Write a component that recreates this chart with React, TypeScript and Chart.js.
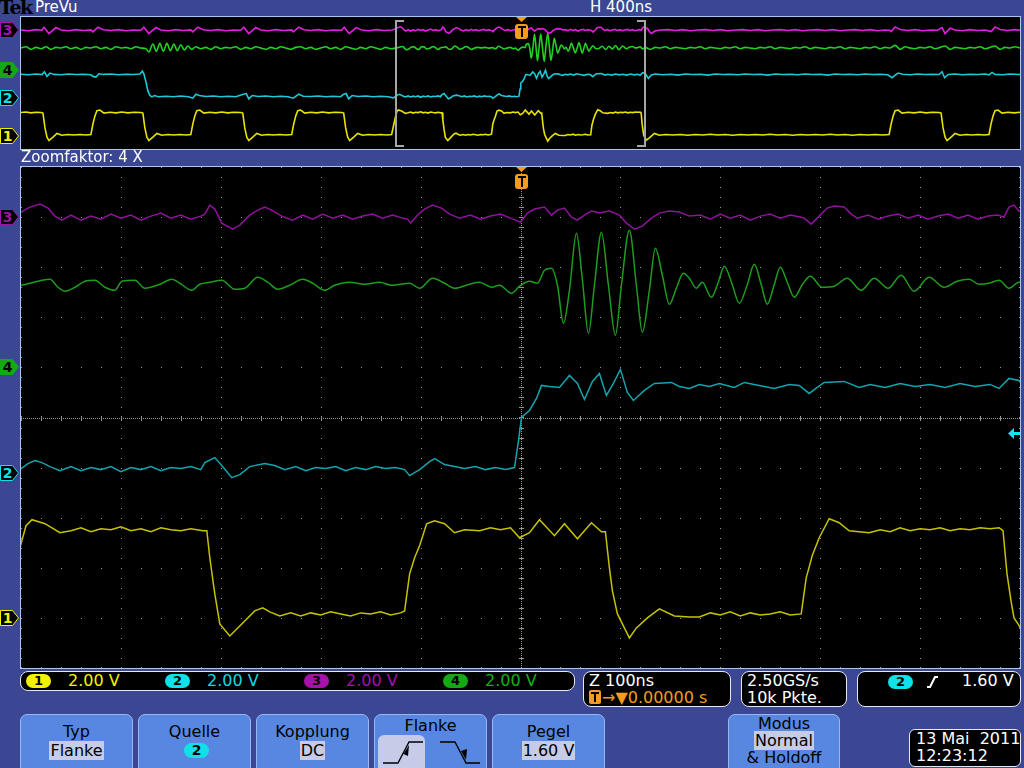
import React, { useEffect, useRef } from "react";
import { Chart, registerables } from "chart.js";

Chart.register(...registerables);

type Pt = [number, number];

// ---- time bases (ns) ----
const MAIN_TIME_RANGE: [number, number] = [-500, 500]; // Z 100ns / div
const OVERVIEW_TIME_RANGE: [number, number] = [-2000, 2000]; // H 400ns / div
const MAIN_TIME_STEP = 100;
const VOLTS_PER_DIV = 2.0;
const TRIGGER_LEVEL_V = 1.6;
const DIV_RANGE: [number, number] = [-5, 5];

// ---- channel info ----
const channelNames = ["1", "2", "3", "4"];
const channelScaleLabels = ["2.00 V", "2.00 V", "2.00 V", "2.00 V"];
const channelOffsetDiv = [-4.0, -1.1, 4.0, 1.0];

// ---- traces: [time ns, volts] ----
const ch1Trace: Pt[] = [
  [-2000,3.52],[-1980,3.60],[-1960,3.48],[-1940,3.56],[-1920,3.52],
  [-1912,3.44],[-1904,1.20],[-1896,-0.20],[-1888,-0.72],[-1872,-0.20],[-1856,0.36],[-1836,0.08],[-1812,0.20],[-1788,0.12],[-1764,0.20],[-1740,0.12],[-1720,0.20],
  [-1712,1.80],[-1704,3.00],[-1696,3.80],[-1684,3.90],[-1668,3.44],[-1644,3.56],[-1620,3.48],[-1596,3.60],[-1572,3.48],[-1548,3.56],[-1520,3.52],
  [-1512,3.44],[-1504,1.20],[-1496,-0.20],[-1488,-0.72],[-1472,-0.20],[-1456,0.36],[-1436,0.08],[-1412,0.20],[-1388,0.12],[-1364,0.20],[-1340,0.12],[-1320,0.20],
  [-1312,1.80],[-1304,3.00],[-1296,3.80],[-1284,3.90],[-1268,3.44],[-1244,3.56],[-1220,3.48],[-1196,3.60],[-1172,3.48],[-1148,3.56],[-1120,3.52],
  [-1112,3.44],[-1104,1.20],[-1096,-0.20],[-1088,-0.72],[-1072,-0.20],[-1056,0.36],[-1036,0.08],[-1012,0.20],[-988,0.12],[-964,0.20],[-940,0.12],[-916,0.20],
  [-908,1.80],[-900,3.00],[-892,3.80],[-880,3.90],[-864,3.44],[-840,3.56],[-816,3.48],[-792,3.60],[-768,3.48],[-744,3.56],[-716,3.52],
  [-708,3.44],[-700,1.20],[-692,-0.20],[-684,-0.72],[-668,-0.20],[-652,0.36],[-632,0.08],[-608,0.20],[-584,0.12],[-560,0.20],[-536,0.12],[-516,0.20],
  [-508,1.60],
  [-500,2.96],[-495,3.68],[-489,3.92],[-476,3.76],[-461,3.40],[-450,3.48],[-440,3.60],[-430,3.44],[-420,3.56],[-410,3.52],[-400,3.64],[-390,3.48],[-380,3.56],[-370,3.44],[-360,3.60],[-350,3.52],[-340,3.48],[-330,3.56],[-318,3.48],
  [-314,3.48],[-311,2.40],[-306,0.96],[-301,-0.24],[-291,-0.72],[-281,-0.32],[-266,0.28],[-258,0.40],[-251,0.24],[-241,0.08],[-230,0.20],[-220,0.08],[-210,0.20],[-200,0.12],[-190,0.24],[-180,0.16],[-170,0.08],[-160,0.20],[-150,0.16],[-140,0.24],[-130,0.12],[-120,0.20],[-116,0.28],
  [-111,1.76],[-106,2.40],[-101,2.88],[-94,3.76],[-86,3.88],[-76,3.76],[-66,3.40],[-56,3.52],[-41,3.48],[-30,3.60],[-20,3.52],[-10,3.60],[-1,3.20],[9,3.40],[19,3.92],[34,3.28],[44,3.76],[57,3.16],[71,3.80],[81,3.44],[85,3.44],
  [89,2.00],[92,1.08],[97,0.16],[104,-0.40],[109,-0.80],[116,-0.40],[127,0.00],[139,0.36],[154,0.08],[169,0.04],[179,0.04],[190,0.20],[200,0.12],[210,0.24],[220,0.08],[230,0.20],[240,0.12],[250,0.16],[260,0.24],[270,0.12],[281,0.16],
  [286,1.60],[292,2.48],[299,3.20],[309,3.96],[319,3.80],[329,3.48],[349,3.40],[360,3.52],[370,3.44],[380,3.60],[390,3.48],[400,3.56],[410,3.52],[420,3.60],[430,3.48],[440,3.56],[450,3.52],[460,3.60],[470,3.56],[479,3.60],[483,3.48],
  [487,1.76],[491,0.68],[494,0.00],[498,-0.24],
  [504,-0.64],[516,-0.30],[536,0.36],[556,0.08],[580,0.20],[610,0.12],[640,0.20],[670,0.08],[700,0.20],[730,0.12],[760,0.24],[790,0.12],[820,0.20],[850,0.08],[880,0.20],[910,0.12],[940,0.20],[970,0.12],[1000,0.24],[1030,0.12],[1060,0.20],[1090,0.08],[1120,0.20],[1150,0.12],[1180,0.20],[1210,0.12],[1240,0.24],[1270,0.12],[1300,0.20],[1330,0.08],[1360,0.20],[1390,0.12],[1420,0.20],[1450,0.12],[1476,0.20],
  [1484,1.80],[1492,3.00],[1500,3.80],[1512,3.90],[1528,3.44],[1552,3.56],[1576,3.48],[1600,3.60],[1624,3.48],[1648,3.56],[1676,3.52],
  [1684,3.44],[1692,1.20],[1700,-0.20],[1708,-0.72],[1724,-0.20],[1740,0.36],[1760,0.08],[1784,0.20],[1808,0.12],[1832,0.20],[1856,0.12],[1876,0.20],
  [1884,1.80],[1892,3.00],[1900,3.80],[1912,3.90],[1928,3.44],[1952,3.56],[1976,3.48],[2000,3.56],
];

const ch2Trace: Pt[] = [
  [-2000,3.52],[-1970,3.44],[-1940,3.56],[-1916,3.48],[-1906,3.90],[-1896,3.20],[-1884,3.70],[-1868,3.50],[-1840,3.44],[-1810,3.56],[-1780,3.48],[-1750,3.52],[-1720,3.44],[-1712,3.20],[-1700,3.10],[-1688,3.60],[-1670,3.50],[-1640,3.56],[-1610,3.44],[-1580,3.52],[-1550,3.48],[-1524,3.56],
  [-1514,4.00],[-1508,3.60],[-1500,2.40],[-1492,1.00],[-1484,0.30],[-1476,0.10],[-1466,0.30],[-1450,0.12],[-1420,0.20],[-1390,0.12],[-1360,0.24],[-1330,0.12],
  [-1312,-0.10],[-1300,0.50],[-1286,0.30],[-1260,0.16],[-1230,0.24],[-1200,0.12],[-1170,0.20],[-1140,0.12],
  [-1110,0.50],[-1098,0.60],[-1088,-0.20],[-1074,0.30],[-1050,0.16],[-1020,0.24],[-990,0.12],[-960,0.20],[-930,0.12],
  [-910,-0.10],[-888,0.50],[-870,0.20],[-840,0.16],[-810,0.24],[-780,0.12],[-750,0.20],[-720,0.12],
  [-708,0.50],[-698,0.60],[-688,-0.20],[-674,0.30],[-650,0.16],[-620,0.24],[-590,0.12],[-560,0.20],[-530,0.12],[-510,-0.05],
  [-500,0.16],[-493,0.36],[-486,0.48],[-479,0.40],[-471,0.24],[-461,0.08],[-450,0.24],[-440,0.08],[-430,0.20],[-420,0.12],[-410,0.24],[-400,0.04],[-390,0.20],[-380,0.12],[-370,0.24],[-360,0.08],[-350,0.20],[-340,0.16],[-330,0.24],[-320,0.12],
  [-316,0.40],[-306,0.60],[-299,0.28],[-289,-0.20],[-281,-0.08],[-271,0.24],[-256,0.36],[-246,0.28],[-236,0.12],[-225,0.24],[-215,0.08],[-205,0.20],[-195,0.16],[-185,0.24],[-175,0.08],[-165,0.20],[-155,0.12],[-145,0.24],[-135,0.16],[-125,0.20],[-116,0.12],
  [-111,-0.12],[-101,0.12],[-91,0.44],[-86,0.56],[-76,0.32],[-66,0.24],[-56,0.16],[-45,0.24],[-35,0.12],[-25,0.20],[-15,0.12],[-6,0.20],
  [-2,1.28],[1,2.20],[9,2.48],[16,2.96],[21,3.48],[29,3.44],[39,3.40],[49,3.88],[57,3.56],[64,2.92],[72,3.64],[79,3.96],[86,3.08],[93,3.56],[100,4.12],[107,3.20],[113,2.88],[124,3.28],[134,3.56],[151,3.60],[159,3.44],[169,3.36],[179,3.52],[189,3.44],[199,3.56],[214,3.40],[224,3.60],[239,3.48],[254,3.36],[269,3.52],[279,3.48],[289,3.16],[297,3.40],[304,3.60],[324,3.64],[339,3.40],[350,3.52],[365,3.40],[380,3.56],[395,3.44],[410,3.52],[425,3.40],[440,3.56],[455,3.44],[470,3.52],[479,3.36],[489,3.76],[499,3.68],
  [512,2.90],[524,3.40],[540,3.56],[570,3.44],[600,3.52],[630,3.40],[660,3.56],[690,3.48],[720,3.52],[750,3.40],[780,3.56],[810,3.48],[840,3.52],[870,3.44],[900,3.56],[930,3.48],[960,3.52],[990,3.40],[1020,3.56],[1050,3.48],[1080,3.52],[1110,3.44],[1140,3.56],[1170,3.48],[1200,3.52],[1230,3.40],[1260,3.56],[1290,3.48],[1320,3.52],[1350,3.44],[1380,3.56],[1410,3.48],[1440,3.52],[1470,3.44],
  [1488,3.00],[1500,3.40],[1512,3.70],[1530,3.52],[1560,3.44],[1590,3.56],[1620,3.48],[1650,3.52],[1676,3.48],
  [1688,3.90],[1698,3.00],[1712,3.50],[1740,3.56],[1770,3.44],[1800,3.52],[1830,3.48],[1860,3.56],[1876,3.44],
  [1888,3.80],[1900,3.50],[1930,3.44],[1960,3.56],[2000,3.48],
];

const ch3Trace: Pt[] = [
  [-2000,0.04],[-1970,-0.08],[-1940,0.08],[-1916,0.00],[-1908,0.45],[-1888,-0.50],[-1860,0.40],[-1840,0.04],[-1810,-0.08],[-1780,0.08],[-1750,-0.04],[-1720,0.04],[-1712,-0.25],[-1692,0.45],[-1670,0.08],[-1640,-0.04],[-1610,0.08],[-1580,-0.08],[-1550,0.04],[-1520,0.00],
  [-1508,0.45],[-1488,-0.50],[-1460,0.40],[-1440,0.04],[-1410,-0.08],[-1380,0.08],[-1350,-0.04],[-1320,0.04],[-1312,-0.25],[-1292,0.45],[-1270,0.08],[-1240,-0.04],[-1210,0.08],[-1180,-0.08],[-1150,0.04],[-1120,0.00],
  [-1108,0.45],[-1088,-0.50],[-1060,0.40],[-1040,0.04],[-1010,-0.08],[-980,0.08],[-950,-0.04],[-916,0.04],[-910,-0.25],[-888,0.45],[-866,0.08],[-840,-0.04],[-810,0.08],[-780,-0.08],[-750,0.04],[-716,0.00],
  [-706,0.45],[-686,-0.50],[-658,0.40],[-636,0.04],[-606,-0.08],[-576,0.08],[-546,-0.04],[-516,0.04],[-508,0.10],
  [-500,0.20],[-491,0.40],[-481,0.52],[-473,0.36],[-466,0.04],[-459,-0.12],[-450,0.08],[-440,-0.12],[-430,0.04],[-420,-0.08],[-410,0.12],[-400,-0.04],[-390,0.08],[-380,-0.12],[-370,0.04],[-360,0.16],[-350,-0.04],[-340,0.08],[-330,-0.08],[-320,0.04],
  [-316,0.12],[-311,0.48],[-306,0.32],[-299,-0.24],[-288,-0.48],[-281,-0.32],[-271,0.08],[-263,0.28],[-256,0.40],[-249,0.28],[-239,0.04],[-228,-0.12],[-218,0.08],[-208,-0.08],[-198,0.12],[-188,-0.04],[-178,0.08],[-168,-0.08],[-158,0.04],[-148,0.12],[-138,-0.04],[-128,0.08],[-118,-0.04],
  [-113,-0.08],[-110,-0.24],[-103,0.08],[-96,0.32],[-88,0.48],[-79,0.36],[-71,0.12],[-61,-0.04],[-50,0.08],[-40,-0.08],[-30,0.04],[-20,0.12],[-10,-0.04],[0,-0.20],[7,0.16],[14,0.32],[24,0.40],[31,0.08],[37,0.28],[44,0.36],[51,0.00],[57,-0.12],[64,0.08],[71,0.24],[79,0.16],[89,0.24],[99,0.08],[106,-0.24],[114,-0.48],[122,-0.36],[131,-0.04],[139,0.16],[149,0.24],[159,0.20],[169,0.04],[180,0.08],[190,-0.08],[200,0.12],[210,-0.04],[220,0.08],[230,-0.12],[240,0.04],[250,0.12],[260,-0.04],[270,0.08],[280,0.00],
  [284,-0.04],[291,-0.28],[299,0.04],[307,0.36],[314,0.44],[324,0.40],[331,0.12],[337,-0.04],[348,0.08],[358,-0.08],[368,0.04],[378,0.12],[388,-0.04],[398,0.08],[408,-0.08],[418,0.04],[428,0.12],[438,-0.04],[448,0.08],[458,-0.08],[468,0.04],[478,0.08],[484,0.00],[489,0.40],[494,0.48],[499,0.24],
  [508,0.30],[516,-0.20],[524,-0.50],[540,-0.10],[560,0.04],[590,0.08],[620,-0.04],[650,0.08],[680,-0.08],[710,0.04],[740,0.08],[770,-0.04],[800,0.08],[830,-0.08],[860,0.04],[890,0.08],[920,-0.04],[950,0.08],[980,-0.08],[1010,0.04],[1040,0.08],[1070,-0.04],[1100,0.08],[1130,-0.08],[1160,0.04],[1190,0.08],[1220,-0.04],[1250,0.08],[1280,-0.08],[1310,0.04],[1340,0.08],[1370,-0.04],[1400,0.08],[1430,-0.08],[1460,0.04],[1478,0.00],
  [1484,-0.20],[1500,0.50],[1520,0.10],[1550,-0.04],[1580,0.08],[1610,-0.08],[1640,0.04],[1670,0.00],[1688,0.40],[1700,-0.50],[1720,0.30],[1740,0.04],[1770,-0.08],[1800,0.08],[1830,-0.04],[1860,0.04],[1884,-0.20],[1900,0.50],[1920,0.10],[1950,-0.04],[1980,0.08],[2000,0.00],
];

const ch4Trace: Pt[] = [
  [-2000,3.3],[-1980,3.5],[-1960,3.1],[-1940,3.4],[-1920,3.2],[-1900,3.5],[-1880,3.1],[-1860,3.4],[-1840,3.3],[-1820,3.5],[-1800,3.2],[-1780,3.4],[-1760,3.1],[-1740,3.4],[-1720,3.3],[-1700,3.5],[-1680,3.2],[-1660,3.4],[-1640,3.1],[-1620,3.5],[-1600,3.3],[-1580,3.4],[-1560,3.2],[-1540,3.5],[-1520,3.3],[-1500,3.2],
  [-1488,2.7],[-1472,3.9],[-1458,2.8],[-1444,4.0],[-1430,2.8],[-1416,4.0],[-1402,2.9],[-1388,3.9],[-1374,2.9],[-1360,3.8],[-1346,3.0],[-1332,3.6],[-1316,3.1],[-1300,3.5],
  [-1280,3.2],[-1260,3.4],[-1240,3.1],[-1220,3.5],[-1200,3.2],[-1180,3.4],[-1160,3.3],[-1140,3.5],[-1120,3.1],[-1100,3.4],[-1080,3.2],[-1060,3.5],[-1040,3.3],[-1020,3.1],[-1000,3.4],[-980,3.2],[-960,3.5],[-940,3.3],[-920,3.1],[-900,3.4],[-880,3.5],[-860,3.2],[-840,3.4],[-820,3.1],[-800,3.3],[-780,3.5],[-760,3.2],[-740,3.4],[-720,3.1],[-700,3.5],[-680,3.3],[-660,3.1],[-640,3.4],[-620,3.2],[-600,3.5],[-580,3.3],[-560,3.1],[-540,3.4],[-520,3.2],
  [-500,3.28],[-491,3.36],[-479,3.48],[-471,3.52],[-463,3.20],[-456,3.04],[-446,3.20],[-436,3.44],[-426,3.48],[-416,3.20],[-406,3.08],[-399,3.44],[-386,3.48],[-376,3.16],[-361,3.32],[-349,3.52],[-341,3.36],[-329,3.08],[-321,3.32],[-311,3.40],[-299,3.48],[-286,3.12],[-276,3.16],[-263,3.60],[-253,3.40],[-243,3.12],[-231,3.28],[-218,3.52],[-208,3.36],[-196,3.08],[-186,3.28],[-171,3.40],[-156,3.32],[-141,3.40],[-129,3.28],[-111,3.36],[-101,3.16],[-88,3.56],[-76,3.36],[-66,3.16],[-51,3.32],[-41,3.40],[-29,3.20],[-21,3.28],[-9,2.96],[-1,3.24],
  [9,3.44],[17,3.36],[24,3.88],[31,3.96],[37,3.28],[43,1.76],[49,3.08],[56,5.36],[62,3.48],[68,1.36],[74,3.28],[81,5.40],[88,3.28],[95,1.28],[101,3.28],[109,5.48],[116,3.28],[122,1.40],[129,3.08],[135,4.76],[142,3.68],[149,2.52],[156,3.16],[163,3.76],[169,3.56],[176,3.16],[182,3.40],[191,2.80],[198,3.40],[204,4.04],[212,3.30],[219,2.56],[227,3.30],[234,4.12],[241,3.30],[247,2.52],[254,3.30],[260,4.00],[267,3.40],[274,2.80],[282,3.30],[290,3.64],[302,3.20],[314,3.24],[327,3.56],[341,3.08],[354,3.56],[368,3.16],[381,3.68],[394,3.04],[409,3.60],[424,3.20],[437,3.44],[449,3.52],[459,3.32],[469,3.36],[479,3.48],[489,3.16],[499,3.40],
  [520,3.1],[540,3.4],[560,3.3],[580,3.5],[600,3.2],[620,3.4],[640,3.3],[660,3.2],[680,3.4],[700,3.3],[720,3.5],[740,3.2],[760,3.4],[780,3.3],[800,3.2],[820,3.4],[840,3.3],[860,3.5],[880,3.2],[900,3.4],[920,3.3],[940,3.2],[960,3.4],[980,3.3],[1000,3.5],[1020,3.2],[1040,3.4],[1060,3.3],[1080,3.2],[1100,3.4],[1120,3.3],[1140,3.5],[1160,3.2],[1180,3.4],[1200,3.3],[1220,3.2],[1240,3.4],[1260,3.3],[1280,3.5],[1300,3.2],[1320,3.4],[1340,3.3],[1360,3.2],[1380,3.4],[1400,3.3],[1420,3.5],[1440,3.2],[1460,3.4],[1480,3.3],[1500,3.7],[1520,3.1],[1540,3.5],[1560,3.3],[1580,3.2],[1600,3.4],[1620,3.3],[1640,3.5],[1660,3.2],[1680,3.4],[1700,3.6],[1720,3.1],[1740,3.4],[1760,3.3],[1780,3.2],[1800,3.4],[1820,3.3],[1840,3.5],[1860,3.2],[1880,3.4],[1900,3.6],[1920,3.1],[1940,3.4],[1960,3.3],[1980,3.5],[2000,3.3],
];

const traces = [ch1Trace, ch2Trace, ch3Trace, ch4Trace];

// ---- styles (kept apart from data) ----
const MAIN_COLORS = ["#c6c200", "#14a4ae", "#8e129a", "#1f9c1f"];
const OVERVIEW_COLORS = ["#e8e400", "#1ec8d6", "#e020e0", "#22d022"];
const BADGE_COLORS = ["#f2f200", "#10e0e8", "#a412aa", "#14a814"];
const LABEL_COLORS = ["#f2f200", "#12d8e2", "#a412aa", "#14b014"];
const SMOOTH = [false, false, false, true];
const BG = "#3b4793";
const PANEL_BORDER = "#a9c6ee";
const GRID = "#9a968a";
const ORANGE = "#f59c1e";
const FONT = "'DejaVu Sans', sans-serif";
const TRIGGER_CH = 1;

function drawTriggerMarker(ctx: CanvasRenderingContext2D, cx: number, top: number) {
  ctx.fillStyle = ORANGE;
  ctx.beginPath();
  ctx.moveTo(cx - 5, top);
  ctx.lineTo(cx + 6, top);
  ctx.lineTo(cx + 0.5, top + 5);
  ctx.closePath();
  ctx.fill();
  ctx.beginPath();
  (ctx as any).roundRect(cx - 6, top + 7, 13, 15, 3);
  ctx.fill();
  ctx.fillStyle = "#000";
  ctx.fillRect(cx - 3, top + 9, 8, 2);
  ctx.fillRect(cx, top + 9, 2, 11);
}

const mainGridPlugin = {
  id: "mainGrid",
  beforeDatasetsDraw(chart: any) {
    const { ctx, chartArea: a } = chart;
    const x = chart.scales.x, y = chart.scales.y;
    ctx.save();
    ctx.fillStyle = GRID;
    const dot = (px: number, py: number, w = 1, h = 1) => ctx.fillRect(Math.round(px), Math.round(py), w, h);
    const [t0, t1] = MAIN_TIME_RANGE;
    for (let t = t0; t <= t1; t += MAIN_TIME_STEP) {
      const px = Math.min(x.getPixelForValue(t), a.right - 1);
      for (let d = DIV_RANGE[0]; d <= DIV_RANGE[1] + 1e-6; d += 0.2) dot(px, Math.min(y.getPixelForValue(d), a.bottom - 1));
    }
    for (let d = DIV_RANGE[0]; d <= DIV_RANGE[1]; d += 1) {
      const py = Math.min(y.getPixelForValue(d), a.bottom - 1);
      for (let t = t0; t <= t1; t += MAIN_TIME_STEP / 5) dot(Math.min(x.getPixelForValue(t), a.right - 1), py);
    }
    const cx = Math.round(x.getPixelForValue(0));
    const cy = Math.round(y.getPixelForValue(0));
    for (let py = a.top; py <= a.bottom; py += 2) dot(cx, py);
    for (let px = a.left; px <= a.right; px += 2) dot(px, cy);
    for (let d = DIV_RANGE[0]; d <= DIV_RANGE[1] + 1e-6; d += 0.2) dot(cx - 2, y.getPixelForValue(d), 5, 1);
    for (let t = t0; t <= t1; t += MAIN_TIME_STEP / 5) dot(x.getPixelForValue(t), cy - 2, 1, 5);
    ctx.restore();
  },
  afterDatasetsDraw(chart: any) {
    const { ctx, chartArea: a } = chart;
    const x = chart.scales.x, y = chart.scales.y;
    ctx.save();
    drawTriggerMarker(ctx, Math.round(x.getPixelForValue(0)), a.top);
    const ty = Math.round(y.getPixelForValue(TRIGGER_LEVEL_V / VOLTS_PER_DIV + channelOffsetDiv[TRIGGER_CH]));
    ctx.fillStyle = "#10e4f0";
    ctx.beginPath();
    ctx.moveTo(a.right - 12, ty + 0.5);
    ctx.lineTo(a.right - 6, ty - 5);
    ctx.lineTo(a.right - 6, ty + 6);
    ctx.closePath();
    ctx.fill();
    ctx.fillRect(a.right - 7, ty - 1, 7, 3);
    ctx.restore();
  },
};

const overviewPlugin = {
  id: "overviewMarks",
  afterDatasetsDraw(chart: any) {
    const { ctx, chartArea: a } = chart;
    const x = chart.scales.x;
    ctx.save();
    ctx.strokeStyle = "#a6a6a6";
    ctx.lineWidth = 2;
    const l = Math.round(x.getPixelForValue(MAIN_TIME_RANGE[0]));
    const r = Math.round(x.getPixelForValue(MAIN_TIME_RANGE[1]));
    ctx.beginPath();
    ctx.moveTo(l + 8, a.top + 4); ctx.lineTo(l, a.top + 4); ctx.lineTo(l, a.bottom - 3); ctx.lineTo(l + 8, a.bottom - 3);
    ctx.moveTo(r - 8, a.top + 4); ctx.lineTo(r, a.top + 4); ctx.lineTo(r, a.bottom - 3); ctx.lineTo(r - 8, a.bottom - 3);
    ctx.stroke();
    drawTriggerMarker(ctx, Math.round(x.getPixelForValue(0)), a.top);
    ctx.restore();
  },
};

function ScopeCanvas(props: { width: number; height: number; range: [number, number]; colors: string[]; lineWidth: number; plugin: any }) {
  const ref = useRef<HTMLCanvasElement>(null);
  useEffect(() => {
    const chart = new Chart(ref.current as HTMLCanvasElement, {
      type: "line",
      data: {
        datasets: traces.map((tr, i) => ({
          label: "CH" + channelNames[i],
          data: tr.map(([t, v]) => ({ x: t, y: v / VOLTS_PER_DIV + channelOffsetDiv[i] })),
          borderColor: props.colors[i],
          borderWidth: props.lineWidth,
          pointRadius: 0,
          tension: 0,
          cubicInterpolationMode: SMOOTH[i] ? "monotone" : "default",
          fill: false,
        })),
      },
      options: {
        animation: false,
        responsive: false,
        events: [],
        layout: { padding: 0 },
        scales: {
          x: { type: "linear", min: props.range[0], max: props.range[1], display: false },
          y: { type: "linear", min: DIV_RANGE[0], max: DIV_RANGE[1], display: false },
        },
        plugins: { legend: { display: false }, tooltip: { enabled: false } },
      } as any,
      plugins: [props.plugin],
    });
    return () => chart.destroy();
  }, []);
  return <canvas ref={ref} width={props.width} height={props.height} style={{ display: "block", width: props.width, height: props.height }} />;
}

function ChannelTag({ i, cy }: { i: number; cy: number }) {
  const filled = i === 3;
  const c = BADGE_COLORS[i];
  return (
    <svg style={{ position: "absolute", left: 0, top: cy - 9 }} width={20} height={18}>
      <path d="M0.5,1.5 H12.5 L18.5,9 L12.5,16.5 H0.5 Z" fill={filled ? c : "#000"} stroke={c} strokeWidth={1} />
      <text x={7.5} y={14} textAnchor="middle" fontFamily={FONT} fontWeight="bold" fontSize={14} fill={filled ? "#000" : c}>{channelNames[i]}</text>
    </svg>
  );
}

function Badge({ i, left, top }: { i: number; left: number; top: number }) {
  return (
    <div style={{ position: "absolute", left, top, width: 25, height: 14, borderRadius: 7, background: BADGE_COLORS[i], color: "#000", fontSize: 13, fontWeight: "bold", lineHeight: "14px", textAlign: "center" }}>{channelNames[i]}</div>
  );
}

function Box({ left, top, width, height, children }: any) {
  return (
    <div style={{ position: "absolute", left, top, width, height, boxSizing: "border-box", border: "1px solid #e6e8f4", borderRadius: 8, background: "#000" }}>{children}</div>
  );
}

function Txt({ left, top, color = "#fff", size = 16, children, style }: any) {
  return <div style={{ position: "absolute", left, top, color, fontSize: size, lineHeight: "18px", whiteSpace: "pre", ...style }}>{children}</div>;
}

const HL = "#c6cbe7";
function Button({ left, width, children }: any) {
  return (
    <div style={{ position: "absolute", left, top: 714, width, height: 62, boxSizing: "border-box", background: "#5787e0", border: "1px solid #98b6f2", borderRadius: 7, color: "#000", fontSize: 16 }}>{children}</div>
  );
}
function Center({ top, children, hl }: any) {
  return (
    <div style={{ position: "absolute", left: 0, right: 0, top, textAlign: "center", lineHeight: "15px" }}>
      <span style={{ background: hl ? HL : "transparent", padding: "0 1px" }}>{children}</span>
    </div>
  );
}

export default function App() {
  const mainTop = 167, mainH = 501, ovTop = 17, ovH = 132;
  const mainY = (i: number) => mainTop + ((DIV_RANGE[1] - channelOffsetDiv[i]) / (DIV_RANGE[1] - DIV_RANGE[0])) * mainH;
  const ovY = (i: number) => ovTop + ((DIV_RANGE[1] - channelOffsetDiv[i]) / (DIV_RANGE[1] - DIV_RANGE[0])) * ovH;
  return (
    <div style={{ position: "fixed", left: 0, top: 0, width: 1024, height: 768, background: BG, overflow: "hidden", fontFamily: FONT }}>
      <div style={{ position: "absolute", left: -1, top: -4, fontFamily: "'DejaVu Serif', serif", fontWeight: "bold", fontSize: 19, letterSpacing: -1.5, color: "#000" }}>Tek</div>
      <Txt left={35} top={-2} size={15}>PreVu</Txt>
      <Txt left={590} top={-2} size={15}>H 400ns</Txt>

      <div style={{ position: "absolute", left: 20, top: 16, width: 1001, height: 134, boxSizing: "border-box", border: `1px solid ${PANEL_BORDER}`, background: "#000" }}>
        <ScopeCanvas width={999} height={ovH} range={OVERVIEW_TIME_RANGE} colors={OVERVIEW_COLORS} lineWidth={1.6} plugin={overviewPlugin} />
      </div>
      {[0, 1, 2, 3].map((i) => <ChannelTag key={"o" + i} i={i} cy={ovY(i)} />)}

      <Txt left={21} top={148} size={15}>Zoomfaktor: 4 X</Txt>

      <div style={{ position: "absolute", left: 20, top: 166, width: 1001, height: 503, boxSizing: "border-box", border: `1px solid ${PANEL_BORDER}`, background: "#000" }}>
        <ScopeCanvas width={999} height={mainH} range={MAIN_TIME_RANGE} colors={MAIN_COLORS} lineWidth={1.5} plugin={mainGridPlugin} />
      </div>
      {[0, 1, 2, 3].map((i) => <ChannelTag key={"m" + i} i={i} cy={mainY(i)} />)}

      <Box left={20} top={671} width={555} height={20}>
        {[0, 1, 2, 3].map((i) => (
          <React.Fragment key={i}>
            <Badge i={i} left={5 + i * 139} top={2} />
            <Txt left={47 + i * 139} top={0} color={LABEL_COLORS[i]} size={16} style={{ lineHeight: "18px" }}>{channelScaleLabels[i]}</Txt>
          </React.Fragment>
        ))}
      </Box>
      <Box left={583} top={671} width={148} height={36}>
        <Txt left={5} top={0}>Z 100ns</Txt>
        <div style={{ position: "absolute", left: 5, top: 18, width: 12, height: 14, background: ORANGE, borderRadius: 2 }}>
          <div style={{ position: "absolute", left: 2, top: 2, width: 8, height: 2, background: "#000" }} />
          <div style={{ position: "absolute", left: 5, top: 2, width: 2, height: 10, background: "#000" }} />
        </div>
        <Txt left={18} top={17} color={ORANGE}>{"\u2192\u25BC0.00000 s"}</Txt>
      </Box>
      <Box left={741} top={671} width={106} height={36}>
        <Txt left={5} top={0}>2.50GS/s</Txt>
        <Txt left={5} top={17}>10k Pkte.</Txt>
      </Box>
      <Box left={857} top={671} width={164} height={36}>
        <Badge i={1} left={30} top={3} />
        <svg style={{ position: "absolute", left: 68, top: 3 }} width={14} height={14}>
          <path d="M1,12 H4 L9,2 H12" stroke="#fff" strokeWidth={2} fill="none" />
        </svg>
        <Txt left={104} top={0}>1.60 V</Txt>
      </Box>

      <Button left={20} width={113}>
        <Center top={9}>Typ</Center>
        <Center top={28} hl>Flanke</Center>
      </Button>
      <Button left={138} width={113}>
        <Center top={9}>Quelle</Center>
        <div style={{ position: "absolute", left: 45, top: 28, width: 25, height: 15, borderRadius: 8, background: BADGE_COLORS[1], textAlign: "center", fontWeight: "bold", fontSize: 14, lineHeight: "15px" }}>2</div>
      </Button>
      <Button left={256} width={113}>
        <Center top={9}>Kopplung</Center>
        <Center top={28} hl>DC</Center>
      </Button>
      <Button left={374} width={113}>
        <Center top={3}>Flanke</Center>
        <div style={{ position: "absolute", left: 3, top: 20, width: 47, height: 40, borderRadius: 6, background: HL }} />
        <svg style={{ position: "absolute", left: 0, top: 20 }} width={113} height={40}>
          <path d="M8,28 H23 L34,7 H48" stroke="#000" strokeWidth={1.3} fill="none" />
          <path d="M28.5,19 L34,10 L33,21 Z" fill="#000" />
          <path d="M65,7 H80 L91,28 H105" stroke="#000" strokeWidth={1.3} fill="none" />
          <path d="M86,16 L91,25 L92,14 Z" fill="#000" />
        </svg>
      </Button>
      <Button left={492} width={113}>
        <Center top={9}>Pegel</Center>
        <Center top={28} hl>1.60 V</Center>
      </Button>
      <Button left={728} width={112}>
        <Center top={1}>Modus</Center>
        <Center top={18} hl>Normal</Center>
        <Center top={35}>&amp; Holdoff</Center>
      </Button>

      <div style={{ position: "absolute", left: 909, top: 729, width: 112, height: 38, boxSizing: "border-box", border: "1px solid #e6e8f4", borderRadius: 6, background: "#000" }}>
        <Txt left={6} top={0}>{"13 Mai  2011"}</Txt>
        <Txt left={6} top={17}>12:23:12</Txt>
      </div>
    </div>
  );
}
